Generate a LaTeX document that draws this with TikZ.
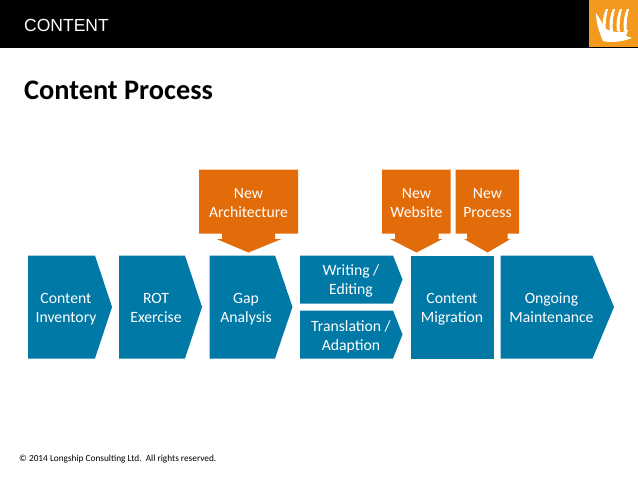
\documentclass[tikz,border=0pt]{standalone}
\usepackage{fontspec}
\setmainfont{Carlito}
\newfontfamily\headfont{Liberation Sans}
\definecolor{step-blue}{HTML}{0079A6}
\definecolor{add-orange}{HTML}{E36C0A}
\definecolor{logo-orange}{HTML}{F39A1E}
\tikzset{
    step-shape/.style = {fill=step-blue},
    add-shape/.style = {fill=add-orange},
    step-label/.style = {text=white, align=center, inner sep=0pt, anchor=base, font=\fontsize{15.7}{19}\selectfont},
}

\begin{document}
\begin{tikzpicture}[x=1pt, y=-1pt]
\useasboundingbox (0,0) rectangle (638,479);
% header
\fill[black] (0,0) rectangle (638,48);
\fill[logo-orange] (589,0) rectangle (638,47);
\node[text=white, anchor=west, inner sep=0pt, font=\headfont\fontsize{17.5}{19}\selectfont] (header) at (24,25) {CONTENT};
% logo
\fill[white] (596,13) .. controls (600,18) and (602,24) .. (606,29) .. controls (614,33) and (624,33) .. (628,30) -- (626,36) -- (632,38) .. controls (622,42) and (610,43) .. (603,41) .. controls (599,32) and (596,22) .. (596,13) -- cycle;
\foreach \sailx in {603,610,617,624} {
    \fill[white] (\sailx,31) .. controls (\sailx-1,22) and (\sailx,16) .. (\sailx+3,9) -- (\sailx+5,9) .. controls (\sailx+3,17) and (\sailx+2,24) .. (\sailx+3,32) -- cycle;
}
\node[anchor=west, inner sep=0pt, font=\fontsize{28.3}{32}\selectfont\bfseries] (title) at (24,90) {Content Process};
% orange boxes
\fill[add-shape] (199,169.5) -- (298,169.5) -- (298,233.5) -- (275,233.5) -- (275,239) -- (281.5,239) -- (248.5,252.5) -- (216.5,239) -- (222,239) -- (222,233.5) -- (199,233.5) -- cycle;
\fill[add-shape] (382,169.5) -- (450.5,169.5) -- (450.5,233.5) -- (438.5,233.5) -- (438.5,239) -- (442.5,239) -- (416.5,252.5) -- (390,239) -- (395,239) -- (395,233.5) -- (382,233.5) -- cycle;
\fill[add-shape] (455.5,169.5) -- (519,169.5) -- (519,233.5) -- (507.5,233.5) -- (507.5,239) -- (510.5,239) -- (487.5,252.5) -- (464,239) -- (467,239) -- (467,233.5) -- (455.5,233.5) -- cycle;
\node[step-label] (architecture) at (248.5,217) {New\\Architecture};
\node[step-label] (website) at (416.5,217) {New\\Website};
\node[step-label] (process) at (487.5,217) {New\\Process};
% blue steps
\fill[step-shape] (28,255.5) -- (95,255.5) -- (112,307) -- (95,358.5) -- (28,358.5) -- cycle;
\fill[step-shape] (119,255.5) -- (185,255.5) -- (202,307) -- (185,358.5) -- (119,358.5) -- cycle;
\fill[step-shape] (209.5,255.5) -- (275,255.5) -- (292.5,307) -- (275,358.5) -- (209.5,358.5) -- cycle;
\fill[step-shape] (300,255.5) -- (393,255.5) -- (402.5,279.5) -- (393,303.5) -- (300,303.5) -- cycle;
\fill[step-shape] (300,310.5) -- (393,310.5) -- (402.5,334.5) -- (393,358.5) -- (300,358.5) -- cycle;
\fill[step-shape] (410.5,255.5) rectangle (494,358.5);
\fill[step-shape] (500.5,255.5) -- (592.5,255.5) -- (614,307) -- (592.5,358.5) -- (500.5,358.5) -- cycle;
\node[step-label] (inventory) at (66,322) {Content\\Inventory};
\node[step-label] (rot) at (156,322) {ROT\\Exercise};
\node[step-label] (gap) at (246,322) {Gap\\Analysis};
\node[step-label] (writing) at (351,294) {Writing /\\Editing};
\node[step-label] (translation) at (351,350) {Translation /\\Adaption};
\node[step-label] (migration) at (452,322) {Content\\Migration};
\node[step-label] (maintenance) at (551.5,322) {Ongoing\\Maintenance};
% footer
\node[anchor=west, inner sep=0pt, font=\fontsize{9.3}{11}\selectfont] (footer) at (19,459) {© 2014 Longship Consulting Ltd.\ \ All rights reserved.};
\end{tikzpicture}
\end{document}
